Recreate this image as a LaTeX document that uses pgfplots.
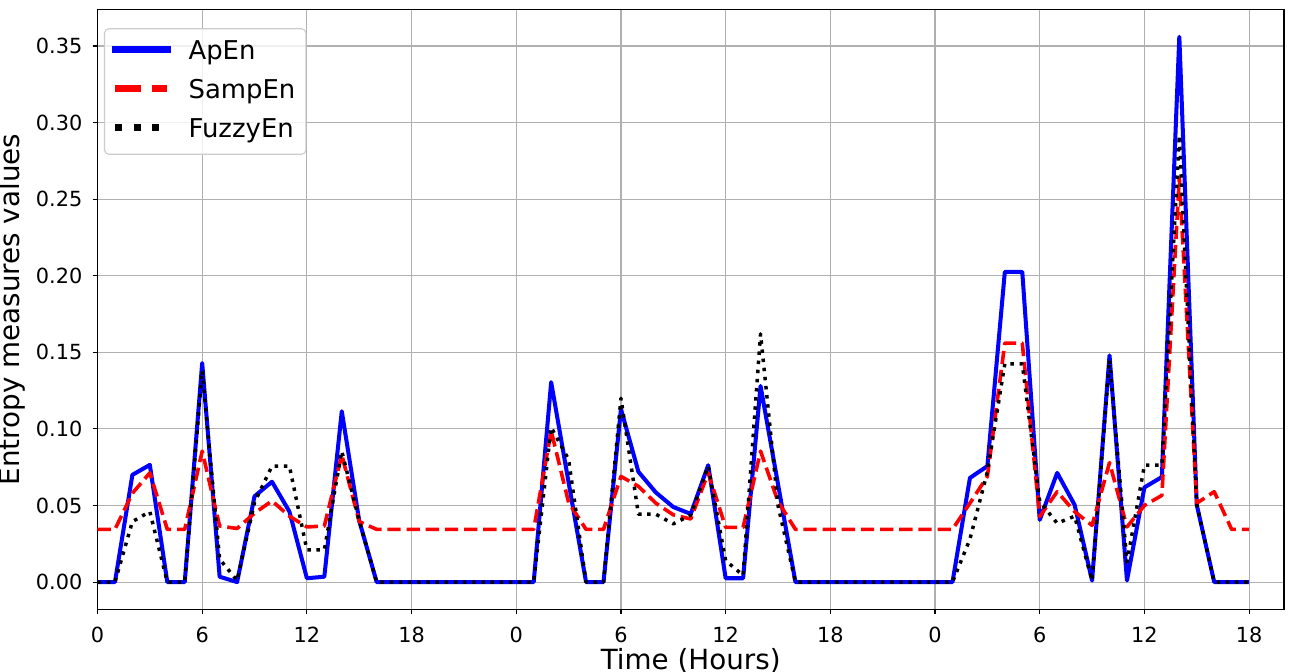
\documentclass[border=0pt]{standalone}
\usepackage{fontspec}
\setmainfont{DejaVu Sans}
\usepackage{pgfplots}
\usepackage{pgfplotstable}
\pgfplotsset{compat=1.18}
\definecolor{gridgray}{HTML}{B0B0B0}
\definecolor{legframe}{HTML}{CCCCCC}

\pgfplotstableread{
h apen sampen fuzzyen
0 0 0.0344 0
1 0 0.0344 0
2 0.0700 0.0580 0.0395
3 0.0765 0.0713 0.0460
4 0 0.0344 0
5 0 0.0344 0
6 0.1430 0.0855 0.1380
7 0.0035 0.0366 0.0150
8 0 0.0350 0.0010
9 0.0560 0.0450 0.0520
10 0.0655 0.0530 0.0757
11 0.0460 0.0430 0.0757
12 0.0025 0.0360 0.0210
13 0.0035 0.0366 0.0210
14 0.1115 0.0830 0.0855
15 0.0400 0.0395 0.0400
16 0 0.0344 0
17 0 0.0344 0
18 0 0.0344 0
19 0 0.0344 0
20 0 0.0344 0
21 0 0.0344 0
22 0 0.0344 0
23 0 0.0344 0
24 0 0.0344 0
25 0 0.0344 0
26 0.1305 0.0987 0.1010
27 0.0650 0.0520 0.0800
28 0 0.0344 0
29 0 0.0344 0
30 0.1130 0.0690 0.1200
31 0.0720 0.0625 0.0443
32 0.0585 0.0515 0.0443
33 0.0490 0.0439 0.0380
34 0.0445 0.0412 0.0438
35 0.0763 0.0713 0.0757
36 0.0025 0.0357 0.0140
37 0.0025 0.0357 0.0044
38 0.1280 0.0855 0.1620
39 0.0640 0.0526 0.0500
40 0 0.0344 0
41 0 0.0344 0
42 0 0.0344 0
43 0 0.0344 0
44 0 0.0344 0
45 0 0.0344 0
46 0 0.0344 0
47 0 0.0344 0
48 0 0.0344 0
49 0 0.0344 0
50 0.0680 0.0515 0.0280
51 0.0757 0.0690 0.0720
52 0.2025 0.1560 0.1425
53 0.2025 0.1560 0.1425
54 0.0406 0.0428 0.0526
55 0.0713 0.0590 0.0384
56 0.0504 0.0460 0.0430
57 0.0010 0.0370 0.0010
58 0.1480 0.0780 0.1450
59 0.0010 0.0360 0.0130
60 0.0618 0.0500 0.0763
61 0.0686 0.0566 0.0763
62 0.3560 0.2640 0.2916
63 0.0504 0.0515 0.0504
64 0 0.0590 0
65 0 0.0344 0
66 0 0.0344 0
}\datatable

\begin{document}
\begin{tikzpicture}
\begin{axis}[
  scale only axis,
  width=854.3pt, height=431.9pt,
  xmin=0, xmax=68,
  ymin=-0.0178, ymax=0.3738,
  xtick={0,6,12,18,24,30,36,42,48,54,60,66},
  xticklabels={0,6,12,18,0,6,12,18,0,6,12,18},
  ytick={0,0.05,0.10,0.15,0.20,0.25,0.30,0.35},
  /pgf/number format/assume math mode=true,
  y tick label style={/pgf/number format/fixed, /pgf/number format/fixed zerofill, /pgf/number format/precision=2},
  tick label style={font=\fontsize{15}{18}\selectfont, inner sep=0pt},
  x tick label style={anchor=north, yshift=-8.9pt},
  y tick label style={anchor=east, xshift=-7.2pt},
  tick align=outside,
  xtick pos=lower, ytick pos=left,
  major tick length=3.5pt,
  major tick style={line width=0.8pt, black},
  axis line style={line width=0.8pt, black},
  grid=major,
  grid style={line width=0.8pt, gridgray},
  xlabel={Time (Hours)},
  ylabel={Entropy measures values},
  every axis x label/.style={at={(axis description cs:0.5,-0.0653)}, anchor=north, inner sep=0pt, font=\fontsize{20}{24}\selectfont},
  every axis y label/.style={at={(axis description cs:-0.0603,0.5)}, rotate=90, anchor=south, inner sep=0pt, font=\fontsize{20}{24}\selectfont},
  legend style={
    at={(axis description cs:0.00548,0.96874)}, anchor=north west,
    draw=legframe, line width=0.8pt, fill=white, fill opacity=0.8, text opacity=1,
    rounded corners=3pt,
    inner xsep=5.2pt, inner ysep=7.9pt,
    row sep=9.8pt, column sep=13pt,
    font=\fontsize{18.65}{22}\selectfont,
    nodes={inner sep=0pt, text height=13.9pt, text depth=4.4pt, anchor=base west},
  },
  legend cell align=left,
]
\addplot[blue, line width=2.9pt, line join=round,
  legend image code/.code={\path[draw=none,fill=none] (0pt,0pt) rectangle (37.3pt,13.9pt); \draw[blue, line width=5pt, line cap=rect] (0pt,6.8pt) -- (37.3pt,6.8pt);}]
  table[x=h, y=apen] {\datatable};
\addlegendentry{ApEn}
\addplot[red, line width=2.6pt, line join=round, dash pattern=on 9.6pt off 4.2pt,
  legend image code/.code={\path[draw=none,fill=none] (0pt,0pt) rectangle (37.3pt,13.9pt); \draw[red, line width=5pt, dash pattern=on 18.5pt off 8pt] (0pt,6.8pt) -- (37.3pt,6.8pt);}]
  table[x=h, y=sampen] {\datatable};
\addlegendentry{SampEn}
\addplot[black, line width=2.5pt, line join=round, dash pattern=on 2.5pt off 4.1pt,
  legend image code/.code={\path[draw=none,fill=none] (0pt,0pt) rectangle (37.3pt,13.9pt); \draw[black, line width=5pt, dash pattern=on 5pt off 8.25pt] (0pt,6.8pt) -- (37.3pt,6.8pt);}]
  table[x=h, y=fuzzyen] {\datatable};
\addlegendentry{FuzzyEn\kern3.5pt}
\end{axis}
\pgfresetboundingbox
\path[use as bounding box] ([shift={(-70.2pt,-45.1pt)}]current axis.south west) rectangle ([shift={(8.64pt,6.84pt)}]current axis.north east);
\end{tikzpicture}
\end{document}
